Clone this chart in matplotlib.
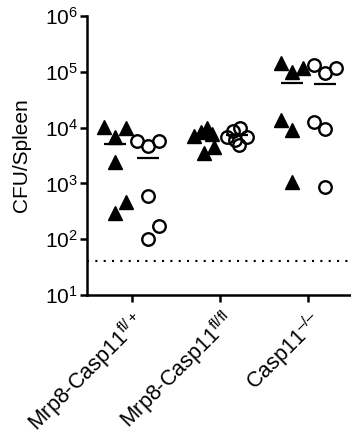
import matplotlib
matplotlib.use("Agg")
import matplotlib.pyplot as plt
import numpy as np
from matplotlib.ticker import LogLocator, LogFormatterSciNotation, NullLocator

plt.rcParams.update({
    "font.family": "Liberation Sans",
    "mathtext.fontset": "custom",
    "mathtext.rm": "Liberation Sans",
    "mathtext.it": "Liberation Sans:italic",
    "mathtext.default": "regular",
})

# ── Data (CFU per spleen) ─────────────────────────────────────────────────────
labels = [r"Mrp8-Casp11$^{fl/+}$",
          r"Mrp8-Casp11$^{fl/fl}$",
          "Casp11$^{\u2013/\u2013}$"]

tri_vals = [
    [10200, 6900, 9800, 2400, 455, 293],
    [7200, 8500, 9800, 7600, 3500, 4500],
    [145000, 98000, 118000, 13900, 9200, 1040],
]
circ_vals = [
    [5850, 4600, 5850, 605, 169, 100],
    [6900, 8600, 9900, 6100, 6900, 4900],
    [130000, 97000, 118000, 12600, 9500, 850],
]
detection_limit = 40

# ── Layout: horizontal scatter offsets within each group ──────────────────────
tri_dx = [
    [-0.31, -0.19, -0.063, -0.19, -0.063, -0.19],
    [-0.29, -0.22, -0.15, -0.09, -0.18, -0.07],
    [-0.31, -0.19, -0.063, -0.31, -0.19, -0.19],
]
circ_dx = [
    [0.063, 0.19, 0.31, 0.19, 0.31, 0.19],
    [0.076, 0.15, 0.23, 0.17, 0.30, 0.21],
    [0.063, 0.19, 0.31, 0.063, 0.19, 0.19],
]

fig = plt.figure(figsize=(3.51, 4.38), dpi=100)
ax = fig.add_axes([0.249, 0.3265, 0.748, 0.637])

for i in range(len(labels)):
    tx = i + np.array(tri_dx[i])
    cx = i + np.array(circ_dx[i])
    ax.plot(tx, tri_vals[i], ls="none", marker="^", ms=10.5, color="black",
            mec="black", zorder=3, clip_on=False)
    ax.plot(cx, circ_vals[i], ls="none", marker="o", ms=9, mfc="none",
            mec="black", mew=1.7, zorder=3, clip_on=False)
    # arithmetic means
    ax.hlines(np.mean(tri_vals[i]), i - 0.19 - 0.125, i - 0.19 + 0.125,
              color="black", lw=1.6, zorder=2)
    ax.hlines(np.mean(circ_vals[i]), i + 0.19 - 0.125, i + 0.19 + 0.125,
              color="black", lw=1.6, zorder=2)

ax.axhline(detection_limit, color="black", lw=1.5, ls=(0, (1, 3)), zorder=1)

ax.set_yscale("log")
ax.set_ylim(10, 1e6)
ax.set_xlim(-0.5, 2.47)
ax.yaxis.set_major_locator(LogLocator(base=10, numticks=10))
ax.yaxis.set_major_formatter(LogFormatterSciNotation())
ax.yaxis.set_minor_locator(NullLocator())

ax.set_xticks(range(len(labels)))
ax.set_xticklabels(labels, rotation=45, ha="right", rotation_mode="anchor",
                   fontsize=15.5)
ax.tick_params(axis="y", labelsize=15, width=1.8, length=5, pad=2)
ax.tick_params(axis="x", width=1.8, length=5, pad=4)
ax.set_ylabel("CFU/Spleen", fontsize=15, labelpad=10)

for s in ("top", "right"):
    ax.spines[s].set_visible(False)
for s in ("left", "bottom"):
    ax.spines[s].set_linewidth(1.8)

fig.savefig("out.png", dpi=100)
